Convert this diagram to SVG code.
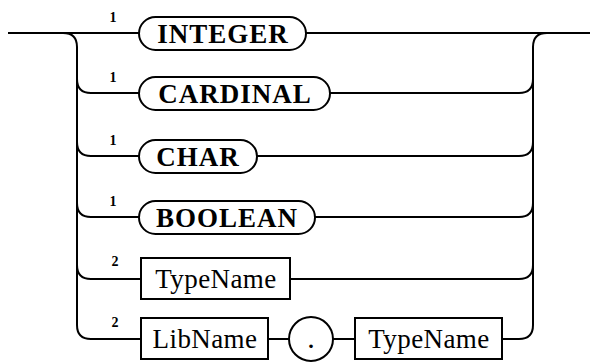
<svg xmlns="http://www.w3.org/2000/svg" width="590" height="363" viewBox="0 0 590 363">
<style>
.ln{fill:none;stroke:#000;stroke-width:2}
.box{fill:#fff;stroke:#000;stroke-width:2}
.kw{font-family:"Liberation Serif","DejaVu Serif",serif;font-weight:bold;font-size:27px;letter-spacing:1px;text-anchor:middle}
.nt{font-family:"Liberation Serif","DejaVu Serif",serif;font-size:27px;letter-spacing:0.4px;text-anchor:middle}
.num{font-family:"Liberation Serif","DejaVu Serif",serif;font-weight:bold;font-size:14px;text-anchor:middle}
.dot{font-family:"Liberation Serif","DejaVu Serif",serif;font-weight:bold;font-size:22px;text-anchor:middle}
</style>
<rect width="590" height="363" fill="#fff"/>
<g id="connectors">
<path class="ln" d="M8,33 H139"/>
<path class="ln" d="M306,33 H590"/>
<path class="ln" d="M63,33 Q77,33 77,47 V325 Q77,339 91,339 H141"/>
<path class="ln" d="M77,79 Q77,93 91,93 H139"/>
<path class="ln" d="M77,142 Q77,156 91,156 H139"/>
<path class="ln" d="M77,203 Q77,217 91,217 H139"/>
<path class="ln" d="M77,265 Q77,279 91,279 H141"/>
<path class="ln" d="M547,33 Q533,33 533,47 V325 Q533,339 519,339 H502"/>
<path class="ln" d="M330,93 H519 Q533,93 533,79"/>
<path class="ln" d="M257,156 H519 Q533,156 533,142"/>
<path class="ln" d="M315,217 H519 Q533,217 533,203"/>
<path class="ln" d="M290,279 H519 Q533,279 533,265"/>
<path class="ln" d="M268,339 H289"/>
<path class="ln" d="M333,339 H355"/>
</g>
<g id="n-integer">
<rect class="box" x="139" y="17" width="167" height="33" rx="16.5"/>
<text class="kw" x="223" y="43">INTEGER</text>
<text class="num" x="113" y="22">1</text>
</g>
<g id="n-cardinal">
<rect class="box" x="139" y="77" width="191" height="33" rx="16.5"/>
<text class="kw" x="235" y="103">CARDINAL</text>
<text class="num" x="113" y="82">1</text>
</g>
<g id="n-char">
<rect class="box" x="139" y="140" width="118" height="33" rx="16.5"/>
<text class="kw" x="198" y="166">CHAR</text>
<text class="num" x="113" y="145">1</text>
</g>
<g id="n-boolean">
<rect class="box" x="139" y="201" width="176" height="33" rx="16.5"/>
<text class="kw" x="227" y="227">BOOLEAN</text>
<text class="num" x="113" y="206">1</text>
</g>
<g id="n-typename1">
<rect class="box" x="141" y="258" width="149" height="41"/>
<text class="nt" x="216" y="288">TypeName</text>
<text class="num" x="115" y="266">2</text>
</g>
<g id="n-libname">
<rect class="box" x="141" y="318" width="127" height="41"/>
<text class="nt" x="205" y="348">LibName</text>
<text class="num" x="115" y="327">2</text>
</g>
<g id="n-dot">
<circle class="box" cx="311" cy="339" r="22"/>
<text class="dot" x="311" y="348">.</text>
</g>
<g id="n-typename2">
<rect class="box" x="355" y="318" width="147" height="41"/>
<text class="nt" x="429" y="348">TypeName</text>
</g>
</svg>
